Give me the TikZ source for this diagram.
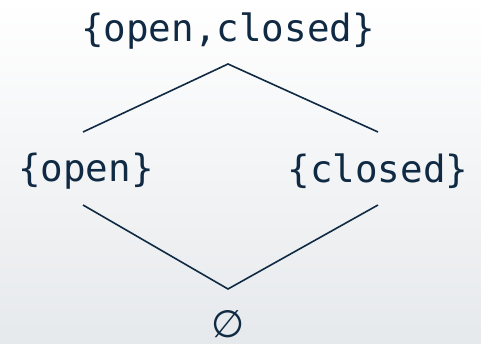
\documentclass[tikz,border=0pt]{standalone}
\usepackage{fontspec}
\setmonofont{DejaVu Sans Mono}
\newfontfamily\symfont{DejaVu Sans}
\definecolor{ink}{HTML}{102A43}
\definecolor{bgfar}{HTML}{E6E9EC}
\tikzset{
  elem/.style={text=ink, font=\ttfamily\fontsize{37.5}{45}\selectfont, inner sep=0pt, anchor=center},
  edge/.style={draw=ink, line width=1.6pt},
}
\begin{document}
\begin{tikzpicture}[x=1pt,y=-1pt]
\shade[shading angle=135, top color=white, bottom color=bgfar] (0,0) rectangle (481,344);
\useasboundingbox (0,0) rectangle (481,344);
\node[elem] (top) at (228,31) {\{open,closed\}};
\node[elem] (open) at (86,171) {\{open\}};
\node[elem] (closed) at (378,171) {\{closed\}};
\node[elem, font=\symfont\fontsize{38}{45}\selectfont] (bot) at (228.5,324) {∅};
\coordinate (apex) at (228,64);
\coordinate (lo) at (83,132);
\coordinate (ro) at (378,132);
\coordinate (lb) at (83,205);
\coordinate (rb) at (378,205);
\coordinate (nadir) at (228,289);
\draw[edge] (lo) -- (apex) -- (ro);
\draw[edge] (lb) -- (nadir) -- (rb);
\end{tikzpicture}
\end{document}
